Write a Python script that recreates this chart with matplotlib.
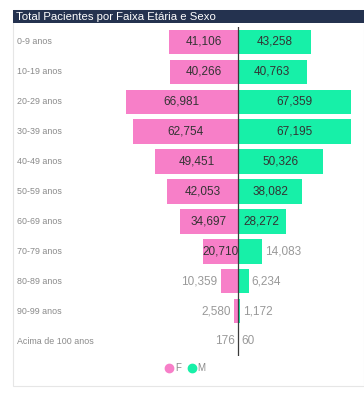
import matplotlib
matplotlib.use("Agg")
import matplotlib.pyplot as plt
from matplotlib.lines import Line2D
from matplotlib.patches import Rectangle

plt.rcParams['font.family'] = ['Liberation Sans Narrow', 'Liberation Sans', 'DejaVu Sans']

faixas = ["0-9 anos", "10-19 anos", "20-29 anos", "30-39 anos", "40-49 anos",
          "50-59 anos", "60-69 anos", "70-79 anos", "80-89 anos", "90-99 anos",
          "Acima de 100 anos"]
fem = [41106, 40266, 66981, 62754, 49451, 42053, 34697, 20710, 10359, 2580, 176]
masc = [43258, 40763, 67359, 67195, 50326, 38082, 28272, 14083, 6234, 1172, 60]

PINK = "#F77FC8"
GREEN = "#17F0A8"
NAVY = "#24324F"
W, H = 364, 408


def px(x, y, w, h):
    # pixel box (top-left origin) -> figure fraction
    return [x / W, 1 - (y + h) / H, w / W, h / H]


fig = plt.figure(figsize=(W / 100, H / 100), dpi=100)

# card + header
fig.patches.append(Rectangle((13 / W, 1 - 386 / H), 351 / W, 376 / H, transform=fig.transFigure,
                             facecolor="white", edgecolor="#E6E6E6", lw=0.8, zorder=-2))
fig.patches.append(Rectangle((13 / W, 1 - 23 / H), 351 / W, 13 / H, transform=fig.transFigure,
                             facecolor=NAVY, edgecolor="none", zorder=-1))
fig.text(16 / W, 1 - 16.5 / H, "Total Pacientes por Faixa Etária e Sexo", color="white",
         fontsize=8.2, va="center", ha="left")

ax = fig.add_axes(px(13, 27, 351, 329))
ax.set_axis_off()
ax.set_xlim(-134000, 75000)
ax.set_ylim(len(faixas) - 0.5, -0.5)

ys = list(range(len(faixas)))
ax.barh(ys, [-v for v in fem], height=0.82, color=PINK)
ax.barh(ys, masc, height=0.82, color=GREEN)
ax.axvline(0, color="#3A3A3A", lw=0.9)

pad = 1800
for y, lab, f, m in zip(ys, faixas, fem, masc):
    ax.text(0.012, y, lab, transform=ax.get_yaxis_transform(), fontsize=6.4,
            color="#8A8A8A", va="center", ha="left")
    if f > 16000:
        ax.text(-f / 2, y, f"{f:,}", fontsize=8.5, color="#333333", va="center", ha="center")
    else:
        ax.text(-f - pad, y, f"{f:,}", fontsize=8.5, color="#999999", va="center", ha="right")
    if m > 16000:
        ax.text(m / 2, y, f"{m:,}", fontsize=8.5, color="#333333", va="center", ha="center")
    else:
        ax.text(m + pad, y, f"{m:,}", fontsize=8.5, color="#999999", va="center", ha="left")

handles = [Line2D([], [], marker="o", ls="none", color=PINK, markersize=6),
           Line2D([], [], marker="o", ls="none", color=GREEN, markersize=6)]
fig.legend(handles, ["F", "M"], loc="center", bbox_to_anchor=(185 / W, 1 - 368 / H), ncol=2,
           frameon=False, fontsize=7, labelcolor="#8A8A8A", handletextpad=0.1,
           columnspacing=0.6, handlelength=1.0)

fig.savefig("out.png", dpi=100)
